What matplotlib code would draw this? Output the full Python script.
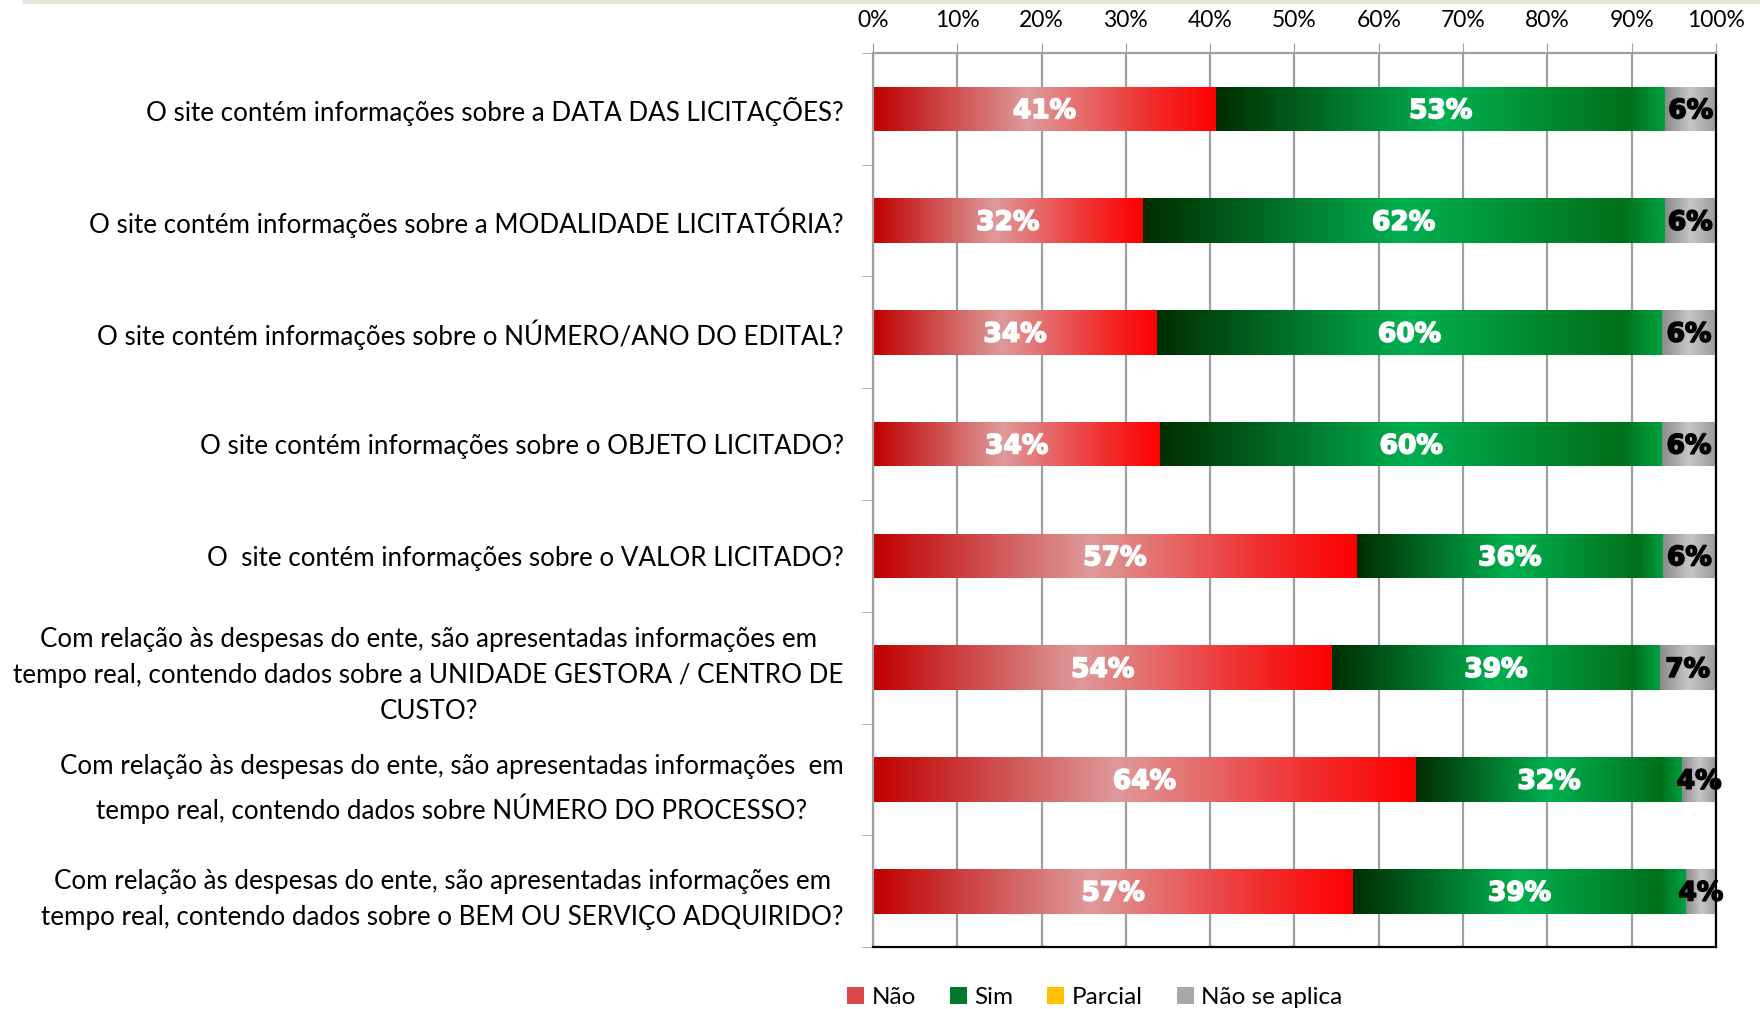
import numpy as np
import matplotlib.pyplot as plt
import matplotlib.patheffects as pe
from matplotlib.colors import LinearSegmentedColormap
from matplotlib.patches import Patch
from matplotlib.lines import Line2D

perguntas = [
    "O site contém informações sobre a DATA DAS LICITAÇÕES?",
    "O site contém informações sobre a MODALIDADE LICITATÓRIA?",
    "O site contém informações sobre o NÚMERO/ANO DO EDITAL?",
    "O site contém informações sobre o OBJETO LICITADO?",
    "O  site contém informações sobre o VALOR LICITADO?",
    "Com relação às despesas do ente, são apresentadas informações em\n"
    "tempo real, contendo dados sobre a UNIDADE GESTORA / CENTRO DE\nCUSTO?",
    "Com relação às despesas do ente, são apresentadas informações  em\n"
    "tempo real, contendo dados sobre NÚMERO DO PROCESSO?",
    "Com relação às despesas do ente, são apresentadas informações em\n"
    "tempo real, contendo dados sobre o BEM OU SERVIÇO ADQUIRIDO?",
]
nao     = [40.7, 32.0, 33.7, 34.1, 57.4, 54.5, 64.4, 57.0]
sim     = [53.3, 61.9, 59.9, 59.5, 36.3, 38.8, 31.6, 39.4]
parcial = [0, 0, 0, 0, 0, 0, 0, 0]
nsa     = [6.0, 6.1, 6.4, 6.4, 6.3, 6.7, 4.0, 3.6]
legenda = ["Não", "Sim", "Parcial", "Não se aplica"]

cm_red = LinearSegmentedColormap.from_list("r", [(0, "#C00000"), (0.45, "#DE9A9A"), (0.8, "#F03030"), (1, "#FF0000")])
cm_green = LinearSegmentedColormap.from_list("g", [(0, "#002E00"), (0.5, "#00B050"), (0.92, "#00701A"), (1, "#00A040")])
cm_yel = LinearSegmentedColormap.from_list("y", ["#FFC000", "#FFC000"])
cm_gray = LinearSegmentedColormap.from_list("k", [(0, "#8A8A8A"), (0.5, "#C6C6C6"), (1, "#9A9A9A")])

fonte = ['Lato', 'DejaVu Sans']

fig = plt.figure(figsize=(17.6, 10.09), dpi=100)
ax = fig.add_axes([0.496, 0.0614, 0.479, 0.8861])

y = np.arange(len(perguntas))
h = 0.4
grad = np.linspace(0, 1, 256).reshape(1, -1)
left = np.zeros(len(y))
series = [(nao, cm_red, "white"), (sim, cm_green, "white"), (parcial, cm_yel, "black"), (nsa, cm_gray, "black")]
for vals, cmap, tc in series:
    vals = np.array(vals, dtype=float)
    bars = ax.barh(y, vals, left=left, height=h, color="none", edgecolor="none", zorder=2)
    for b, v in zip(bars, vals):
        if v <= 0:
            continue
        x0, y0 = b.get_x(), b.get_y()
        im = ax.imshow(grad, cmap=cmap, extent=[x0, x0 + b.get_width(), y0, y0 + b.get_height()],
                       aspect="auto", zorder=2, interpolation="bicubic")
        im.set_clip_path(b)
        ax.text(x0 + b.get_width() / 2, b.get_y() + b.get_height() / 2 + 0.02, f"{v:.0f}%",
                ha="center", va="center", color=tc, fontsize=19, fontweight="heavy", zorder=3,
                path_effects=[pe.withStroke(linewidth=1.2, foreground=tc)])
    left = left + vals

ax.set_xlim(0, 100)
ax.set_ylim(len(y) - 0.5, -0.5)
ax.set_xticks(np.arange(0, 101, 10))
ax.set_xticklabels([f"{t}%" for t in range(0, 101, 10)], family=fonte, fontsize=16.5)
ax.xaxis.tick_top()
ax.tick_params(axis="x", length=7, color="#A0A0A0", pad=9)
ax.set_yticks(y)
ax.set_yticklabels(perguntas, family=fonte, fontsize=18.7, multialignment="center", linespacing=1.55)
for lab in ax.get_yticklabels():
    lab.set_va("center_baseline")
ax.set_yticks(np.arange(-0.5, len(y)), minor=True)
ax.tick_params(axis="y", which="major", length=0, pad=21)
ax.tick_params(axis="y", which="minor", length=8, color="#A0A0A0")
ax.grid(axis="x", color="#A0A0A0", lw=1.6, zorder=0)
ax.set_axisbelow(True)
for s in ["top", "left"]:
    ax.spines[s].set_color("#A0A0A0")
    ax.spines[s].set_linewidth(1.6)
for s in ["right", "bottom"]:
    ax.spines[s].set_color("black")
    ax.spines[s].set_linewidth(1.6)

cores = ["#D84848", "#007A2A", "#FFC000", "#A8A8A8"]
handles = [Patch(facecolor=c, edgecolor="none") for c in cores]
fig.legend(handles, legenda, loc="center", bbox_to_anchor=(0.622, 0.011), ncol=4, frameon=False,
           prop={"family": fonte, "size": 17.5}, handlelength=0.7, handleheight=0.7,
           handletextpad=0.3, columnspacing=1.4)

fig.add_artist(Line2D([0.014, 1], [0.9985, 0.9985], color="#E8E6DA", lw=3))
fig.savefig("out.png", dpi=100)
